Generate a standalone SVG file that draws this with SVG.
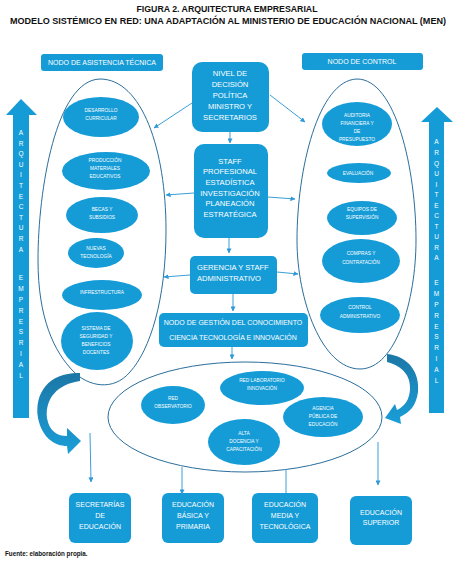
<svg xmlns="http://www.w3.org/2000/svg" width="454" height="566" viewBox="0 0 454 566">
<style>
.b{fill:#159cd7}
.o{fill:none;stroke:#2a6e9c;stroke-width:1}
.c{fill:none;stroke:#3a9fd6;stroke-width:1}
.t{font-family:"Liberation Sans Narrow","Liberation Sans",Arial,sans-serif;fill:#fff;text-anchor:middle}
.m{font-size:7.6px}
.n{font-size:7px}
.s{font-size:4.8px}
.l{font-family:"Liberation Sans",Arial,sans-serif;fill:#fff;text-anchor:middle;font-size:6.5px}
.h{font-family:"Liberation Sans",Arial,sans-serif;font-weight:bold;fill:#111;text-anchor:middle;font-size:9px}
</style>
<defs>
<marker id="ah" viewBox="0 0 6 6" refX="5.5" refY="3" markerWidth="5" markerHeight="5" markerUnits="userSpaceOnUse" orient="auto">
<path d="M0,0 L6,3 L0,6 z" fill="#2f9ad6"/>
</marker>
<linearGradient id="ga" x1="0" y1="0" x2="0" y2="1">
<stop offset="0" stop-color="#1b77a6"/>
<stop offset="1" stop-color="#1a9ed8"/>
</linearGradient>
</defs>
<rect width="454" height="566" fill="#fff"/>

<g id="title">
<text class="h" x="227" y="12" textLength="181" lengthAdjust="spacingAndGlyphs">FIGURA 2. ARQUITECTURA EMPRESARIAL</text>
<text class="h" x="228" y="24" textLength="436" lengthAdjust="spacingAndGlyphs">MODELO SISTÉMICO EN RED: UNA ADAPTACIÓN AL MINISTERIO DE EDUCACIÓN NACIONAL (MEN)</text>
</g>

<g id="arq-left">
<polygon class="b" points="13,418 13,115 6,115 21,99 37,115 29,115 29,418"/>
<text class="l"><tspan x="21" y="135">A</tspan><tspan x="21" y="145.6">R</tspan><tspan x="21" y="156.2">Q</tspan><tspan x="21" y="166.8">U</tspan><tspan x="21" y="177.4">I</tspan><tspan x="21" y="188">T</tspan><tspan x="21" y="198.6">E</tspan><tspan x="21" y="209.2">C</tspan><tspan x="21" y="219.8">T</tspan><tspan x="21" y="230.4">U</tspan><tspan x="21" y="241">R</tspan><tspan x="21" y="251.6">A</tspan><tspan x="21" y="280.3">E</tspan><tspan x="21" y="291.1">M</tspan><tspan x="21" y="301.9">P</tspan><tspan x="21" y="312.7">R</tspan><tspan x="21" y="323.5">E</tspan><tspan x="21" y="334.3">S</tspan><tspan x="21" y="345.1">R</tspan><tspan x="21" y="355.9">I</tspan><tspan x="21" y="366.7">A</tspan><tspan x="21" y="377.5">L</tspan></text>
</g>

<g id="arq-right">
<polygon class="b" points="429,413 429,122 421,122 437,107 453,122 444,122 444,413"/>
<text class="l"><tspan x="436.5" y="144.3">A</tspan><tspan x="436.5" y="154.9">R</tspan><tspan x="436.5" y="165.5">Q</tspan><tspan x="436.5" y="176">U</tspan><tspan x="436.5" y="186.6">I</tspan><tspan x="436.5" y="197.1">T</tspan><tspan x="436.5" y="207.7">E</tspan><tspan x="436.5" y="218.2">C</tspan><tspan x="436.5" y="228.8">T</tspan><tspan x="436.5" y="239.3">U</tspan><tspan x="436.5" y="249.9">R</tspan><tspan x="436.5" y="260.4">A</tspan><tspan x="436.5" y="285.3">E</tspan><tspan x="436.5" y="296.1">M</tspan><tspan x="436.5" y="306.9">P</tspan><tspan x="436.5" y="317.7">R</tspan><tspan x="436.5" y="328.5">E</tspan><tspan x="436.5" y="339.3">S</tspan><tspan x="436.5" y="350.1">R</tspan><tspan x="436.5" y="360.9">I</tspan><tspan x="436.5" y="371.7">A</tspan><tspan x="436.5" y="382.5">L</tspan></text>
</g>

<g id="nodo-asistencia">
<rect class="b" x="41" y="54" width="122" height="17" rx="3"/>
<text class="t n" x="102" y="65.3">NODO DE ASISTENCIA TÉCNICA</text>
</g>
<g id="nodo-control">
<rect class="b" x="302" y="53" width="121" height="17" rx="3"/>
<text class="t n" x="362" y="64">NODO DE CONTROL</text>
</g>

<g id="area-asistencia">
<path class="o" d="M100 79 C56 80 38 190 38 260 C38 318 54 352 74 372 C88 386 113 392 130 372 C150 350 166 300 166 230 C166 150 142 79 100 79 Z"/>
</g>
<g id="area-control">
<path class="o" d="M357 79 C318 80 297 170 297 240 C297 300 322 369 360 369 C396 369 416 300 416 240 C416 170 396 79 357 79 Z"/>
</g>

<g id="desarrollo"><ellipse class="b" cx="101" cy="117" rx="38" ry="20"/><text class="t s"><tspan x="101" y="112">DESARROLLO</tspan><tspan x="101" y="120">CURRICULAR</tspan></text></g>
<g id="produccion"><ellipse class="b" cx="106" cy="171" rx="44" ry="19"/><text class="t s"><tspan x="105" y="162">PRODUCCIÓN</tspan><tspan x="105" y="170">MATERIALES</tspan><tspan x="105" y="178">EDUCATIVOS</tspan></text></g>
<g id="becas"><ellipse class="b" cx="102" cy="215" rx="36" ry="18"/><text class="t s"><tspan x="102" y="211">BECAS Y</tspan><tspan x="102" y="218.5">SUBSIDIOS</tspan></text></g>
<g id="nuevas"><ellipse class="b" cx="96" cy="253" rx="28" ry="15"/><text class="t s"><tspan x="96" y="250">NUEVAS</tspan><tspan x="96" y="258">TECNOLOGÍA</tspan></text></g>
<g id="infra"><ellipse class="b" cx="102" cy="295" rx="40" ry="15"/><text class="t s" x="102" y="293.5">INFRESTRUCTURA</text></g>
<g id="sistema"><ellipse class="b" cx="97" cy="341" rx="36" ry="29"/><text class="t s"><tspan x="96" y="330">SISTEMA   DE</tspan><tspan x="96" y="338">SEGURIDAD   Y</tspan><tspan x="96" y="346">BENEFICIOS</tspan><tspan x="96" y="354">DOCENTES</tspan></text></g>

<g id="auditoria"><ellipse class="b" cx="357" cy="124" rx="35" ry="22"/><text class="t s"><tspan x="357" y="117">AUDITORIA</tspan><tspan x="357" y="125">FINANCIERA  Y</tspan><tspan x="357" y="133">DE</tspan><tspan x="357" y="141">PRESUPUESTO</tspan></text></g>
<g id="evaluacion"><ellipse class="b" cx="359" cy="173" rx="32" ry="10"/><text class="t s" x="358" y="174.8">EVALUACIÓN</text></g>
<g id="equipos"><ellipse class="b" cx="362" cy="218" rx="35" ry="17"/><text class="t s"><tspan x="362" y="211">EQUIPOS DE</tspan><tspan x="362" y="219">SUPERVISIÓN</tspan></text></g>
<g id="compras"><ellipse class="b" cx="361" cy="261" rx="39" ry="22"/><text class="t s"><tspan x="361" y="255">COMPRAS Y</tspan><tspan x="361" y="264">CONTRATACIÓN</tspan></text></g>
<g id="control-adm"><ellipse class="b" cx="360" cy="315" rx="40" ry="18"/><text class="t s"><tspan x="360" y="309">CONTROL</tspan><tspan x="360" y="318">ADMINISTRATIVO</tspan></text></g>

<g id="nivel"><rect class="b" x="192" y="62" width="77" height="70" rx="10"/><text class="t m"><tspan x="230" y="75.5">NIVEL DE</tspan><tspan x="230" y="86.5">DECISIÓN</tspan><tspan x="230" y="97.5">POLÍTICA</tspan><tspan x="230" y="108.5">MINISTRO Y</tspan><tspan x="230" y="119.5">SECRETARIOS</tspan></text></g>
<g id="staff"><rect class="b" x="194" y="144" width="74" height="94" rx="10"/><text class="t m"><tspan x="230" y="163.5">STAFF</tspan><tspan x="230" y="174.2">PROFESIONAL</tspan><tspan x="230" y="184.8">ESTADÍSTICA</tspan><tspan x="230" y="195.5">INVESTIGACIÓN</tspan><tspan x="230" y="206.2">PLANEACIÓN</tspan><tspan x="230" y="216.8">ESTRATÉGICA</tspan></text></g>
<g id="gerencia"><rect class="b" x="190" y="256" width="87" height="38" rx="5"/><text class="t m" style="text-anchor:start"><tspan x="197" y="270">GERENCIA Y  STAFF</tspan><tspan x="197" y="281">ADMINISTRATIVO</tspan></text></g>
<g id="gestion"><rect class="b" x="159" y="313" width="149" height="34" rx="5"/><text class="t n"><tspan x="233" y="324.5">NODO  DE GESTIÓN DEL CONOCIMIENTO</tspan><tspan x="233" y="340">CIENCIA TECNOLOGÍA E INNOVACIÓN</tspan></text></g>

<g id="area-red">
<ellipse class="o" cx="245" cy="417" rx="137" ry="55"/>
</g>
<g id="observatorio"><ellipse class="b" cx="173" cy="405" rx="32" ry="19"/><text class="t s"><tspan x="173" y="400">RED</tspan><tspan x="173" y="408">OBSERVATORIO</tspan></text></g>
<g id="laboratorio"><ellipse class="b" cx="262" cy="388" rx="42" ry="17"/><text class="t s"><tspan x="262" y="382">RED LABORATORIO</tspan><tspan x="262" y="390">INNOVACIÓN</tspan></text></g>
<g id="agencia"><ellipse class="b" cx="323" cy="417" rx="40" ry="20"/><text class="t s"><tspan x="323" y="410">AGENCIA</tspan><tspan x="323" y="418">PÚBLICA DE</tspan><tspan x="323" y="426">EDUCACIÓN</tspan></text></g>
<g id="alta"><ellipse class="b" cx="244" cy="442" rx="36" ry="23"/><text class="t s"><tspan x="244" y="435">ALTA</tspan><tspan x="244" y="443">DOCENCIA Y</tspan><tspan x="244" y="451">CAPACITACIÓN</tspan></text></g>

<g id="secretarias"><rect class="b" x="69" y="493" width="62" height="50" rx="6"/><text class="t n"><tspan x="100" y="506.5">SECRETARÍAS</tspan><tspan x="100" y="517.5">DE</tspan><tspan x="100" y="528.5">EDUCACIÓN</tspan></text></g>
<g id="basica"><rect class="b" x="162" y="493" width="62" height="50" rx="6"/><text class="t n"><tspan x="193" y="506.5">EDUCACIÓN</tspan><tspan x="193" y="517.5">BÁSICA Y</tspan><tspan x="193" y="528.5">PRIMARIA</tspan></text></g>
<g id="media"><rect class="b" x="252" y="493" width="66" height="50" rx="6"/><text class="t n"><tspan x="285" y="506.5">EDUCACIÓN</tspan><tspan x="285" y="517.5">MEDIA  Y</tspan><tspan x="285" y="528.5">TECNOLÓGICA</tspan></text></g>
<g id="superior"><rect class="b" x="350" y="496" width="62" height="49" rx="6"/><text class="t n"><tspan x="381" y="514.5">EDUCACIÓN</tspan><tspan x="381" y="524.5">SUPERIOR</tspan></text></g>

<g id="connectors">
<line class="c" x1="192" y1="103" x2="154" y2="128" marker-end="url(#ah)"/>
<line class="c" x1="270" y1="95" x2="305" y2="122" marker-end="url(#ah)"/>
<line class="c" x1="230" y1="132" x2="230" y2="143" marker-end="url(#ah)"/>
<line class="c" x1="194" y1="193" x2="166" y2="195" marker-end="url(#ah)"/>
<line class="c" x1="268" y1="197" x2="295" y2="199" marker-end="url(#ah)"/>
<line class="c" x1="229" y1="238" x2="229" y2="253" marker-end="url(#ah)"/>
<line class="c" x1="190" y1="275" x2="164" y2="277" marker-end="url(#ah)"/>
<line class="c" x1="277" y1="272" x2="298" y2="274" marker-end="url(#ah)"/>
<line class="c" x1="233" y1="294" x2="233" y2="311" marker-end="url(#ah)"/>
<line class="c" x1="232" y1="347" x2="232" y2="359" marker-end="url(#ah)"/>
<line class="c" x1="90" y1="433" x2="91" y2="482" marker-end="url(#ah)"/>
<line class="c" x1="182" y1="467" x2="182" y2="494" marker-end="url(#ah)"/>
<line class="c" x1="286" y1="469" x2="286" y2="493"/>
<line class="c" x1="378" y1="442" x2="378" y2="485" marker-end="url(#ah)"/>
<path fill="url(#ga)" d="M80 373 C50 372 34 392 38 418 C42 438 55 446 67 446 L68 454 L81 441 L67 428 L67 436 C56 436 49 430 47 418 C45 398 58 384 80 381 Z"/>
<path fill="url(#ga)" d="M387 354 C408 356 420 372 418 392 C416 406 410 412 400 417 L401 424 L385 418 L395 404 L397 410 C405 406 409 400 410 390 C411 375 402 366 387 362 Z"/>
</g>

<text x="5" y="556" style="font-family:'Liberation Sans',Arial,sans-serif;font-weight:bold;font-size:6.3px;fill:#111">Fuente: elaboración propia.</text>
</svg>
